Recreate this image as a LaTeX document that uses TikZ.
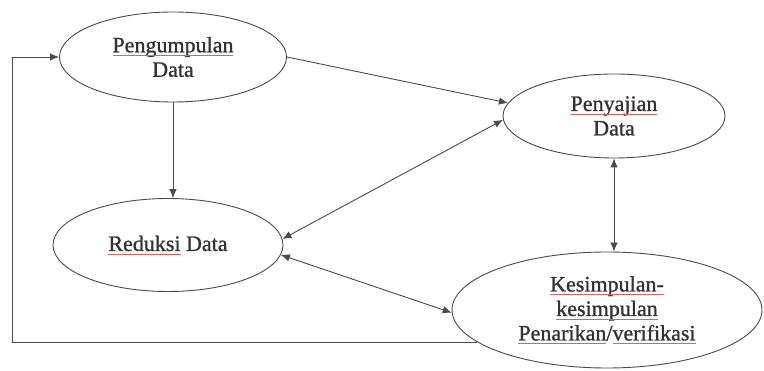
\documentclass[tikz,border=0pt]{standalone}
\usepackage{fontspec}
\setmainfont{Liberation Serif}
\newfontfamily\diafont{Liberation Serif}[RawFeature={embolden=1.0}]
\usetikzlibrary{arrows.meta,shapes.geometric}
\definecolor{ln}{HTML}{4A4A4A}
\definecolor{tx}{HTML}{333333}
\newcommand\rul[1]{\leavevmode\setbox0\hbox{#1}\copy0\llap{\textcolor[HTML]{E06060}{\vrule height -2.6pt depth 3.4pt width \wd0}}\relax}
\tikzset{
  oval/.style={ellipse, draw=ln, line width=0.9pt, inner sep=0pt, text=tx,
    align=center, font=\diafont\fontsize{22}{24.5}\selectfont},
  arr/.style={draw=ln, line width=0.9pt, -{Latex[length=9pt,width=7.5pt]}},
  darr/.style={draw=ln, line width=0.9pt, {Latex[length=9pt,width=7.5pt]}-{Latex[length=9pt,width=7.5pt]}}
}
\begin{document}
\begin{tikzpicture}[x=1pt,y=-1pt]
\path[use as bounding box, fill=white] (0,0) rectangle (764,371);
\node[oval, minimum width=310pt, minimum height=116pt] (ks) at (607,310) {\rul{Kesimpulan-}\\\rul{kesimpulan}\\\rul{Penarikan}/\rul{verifikasi}};
\node[oval, minimum width=230pt, minimum height=93pt] (rd) at (168,245) {\rul{Reduksi} Data};
\node[oval, minimum width=222pt, minimum height=84pt] (sd) at (614,116) {\rul{Penyajian}\\Data};
\node[oval, minimum width=227pt, minimum height=90pt] (pd) at (173,57) {\rul{Pengumpulan}\\Data};
\coordinate (fbx) at (12,0);
\draw[arr] (pd.south) -- (pd.south |- rd.north);
\draw[arr] (pd.east) -- (sd.173);
\draw[darr] (sd.182) -- (rd.3);
\draw[darr] (rd.-5) -- (ks.181);
\draw[darr] (sd.south) -- (sd.south |- ks.north);
\draw[arr] (ks.194) -- (ks.194 -| fbx) |- (pd.west);
\end{tikzpicture}
\end{document}
